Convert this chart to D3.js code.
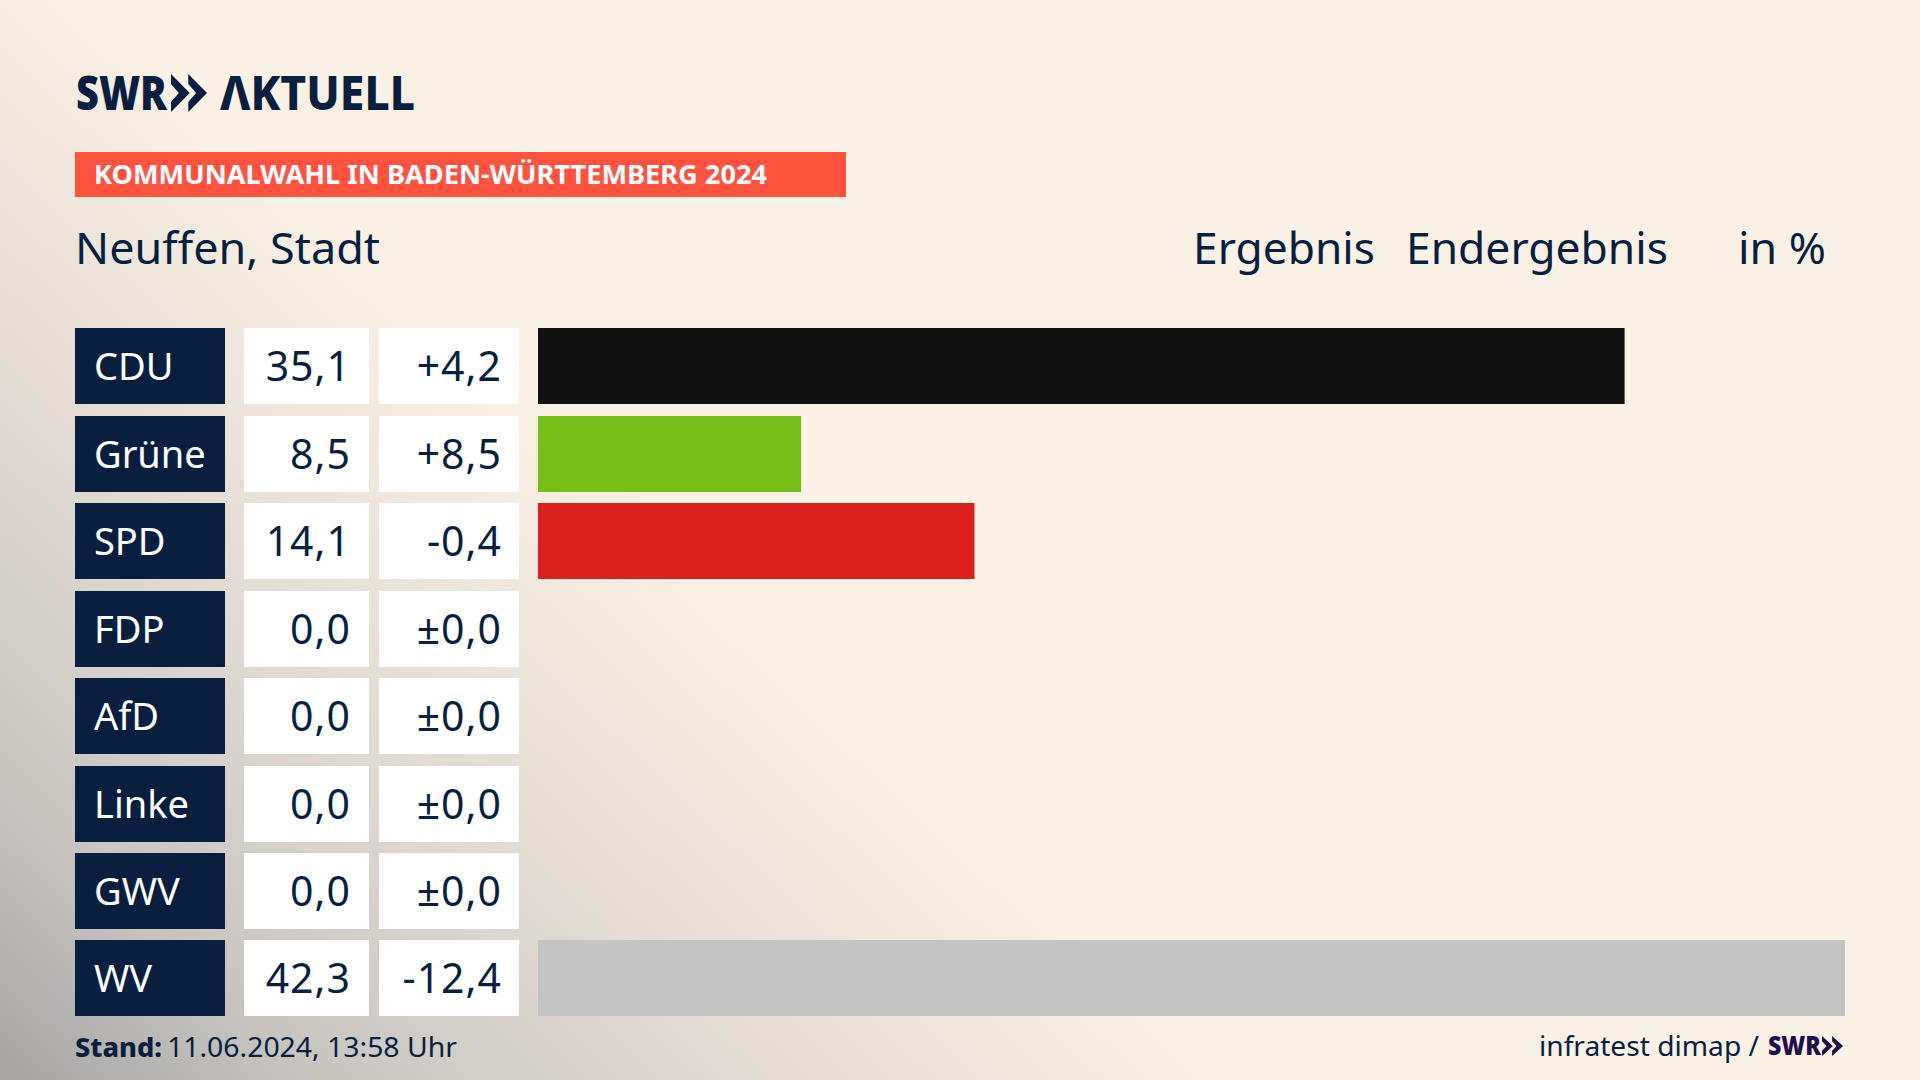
<!DOCTYPE html>
<html lang="de">
<head>
<meta charset="utf-8">
<title>Kommunalwahl Neuffen</title>
<script src="https://cdn.jsdelivr.net/npm/d3@7"></script>
<style>
  html, body { margin: 0; padding: 0; background: #faf1e6; overflow: hidden; }
  svg { display: block; }
  text { font-family: "Noto Sans", sans-serif; fill: #0a1f3f; }
</style>
</head>
<body>
<div id="chart"></div>
<script>
const parties = ["CDU", "Grüne", "SPD", "FDP", "AfD", "Linke", "GWV", "WV"];
const results = [35.1, 8.5, 14.1, 0, 0, 0, 0, 42.3];
const changes = [4.2, 8.5, -0.4, 0, 0, 0, 0, -12.4];
const barColors = ["#121212", "#78be19", "#d9201d", "#999999", "#009ee0", "#be3075", "#c4c4c4", "#c4c4c4"];

const width = 1920;
const height = 1080;
const navy = "#0a1f3f";

const svg = d3.select("#chart")
    .append("svg")
    .attr("width", width)
    .attr("height", height);

// background: cream, going grey towards the lower left corner
const bgGrad = svg.append("defs").append("linearGradient")
    .attr("id", "bg")
    .attr("gradientUnits", "userSpaceOnUse")
    .attr("x1", 0).attr("y1", 1080)
    .attr("x2", 590).attr("y2", 450);
[[0, "#a6a5a4"], [0.26, "#c8c5c1"], [0.5, "#dad5ce"], [0.75, "#ebe4da"], [1, "#faf1e6"]]
    .forEach(s => bgGrad.append("stop").attr("offset", s[0]).attr("stop-color", s[1]));
svg.append("rect").attr("width", width).attr("height", height).attr("fill", "url(#bg)");

// two arrow heads of the logo, back edge straight
function chevrons(x, y, w, h, color) {
    const path = d3.path();
    const cw = w * 0.52;
    [0, w - cw].forEach(off => {
        const x0 = x + off;
        path.moveTo(x0, y);
        path.lineTo(x0 + cw, y + h / 2);
        path.lineTo(x0, y + h);
        path.lineTo(x0, y + h * 0.74);
        path.lineTo(x0 + cw * 0.42, y + h / 2);
        path.lineTo(x0, y + h * 0.26);
        path.closePath();
    });
    svg.append("path").attr("d", path.toString()).attr("fill", color);
}

// logo
svg.append("text").attr("x", 76).attr("y", 110)
    .attr("textLength", 91).attr("lengthAdjust", "spacingAndGlyphs")
    .style("font-size", "48px").style("font-weight", 900).text("SWR");
chevrons(171, 74, 36, 38, navy);
svg.append("text").attr("x", 220).attr("y", 110)
    .attr("textLength", 195).attr("lengthAdjust", "spacingAndGlyphs")
    .style("font-size", "48px").style("font-weight", 800).text("ΛKTUELL");

// red banner
svg.append("rect").attr("x", 75).attr("y", 152).attr("width", 771).attr("height", 45).attr("fill", "#ff5340");
svg.append("text").attr("x", 94).attr("y", 184)
    .attr("textLength", 673).attr("lengthAdjust", "spacingAndGlyphs")
    .style("font-size", "27px").style("font-weight", 700).style("fill", "#fff")
    .text("KOMMUNALWAHL IN BADEN-WÜRTTEMBERG 2024");

// header row
const headers = [
    { label: "Neuffen, Stadt", x: 75, len: 305 },
    { label: "Ergebnis", x: 1193, len: 182 },
    { label: "Endergebnis", x: 1406, len: 262 },
    { label: "in %", x: 1738, len: 88 }
];
svg.selectAll(".head")
    .data(headers)
    .join("text")
    .attr("class", "head")
    .attr("x", d => d.x)
    .attr("y", 264)
    .attr("textLength", d => d.len)
    .attr("lengthAdjust", "spacingAndGlyphs")
    .style("font-size", "44px")
    .text(d => d.label);

// scales
const y = d3.scaleBand().domain(parties).range([328.4, 1016.4]).paddingInner(0.1307);
// WV runs off the scale, the bar stops at the right margin
const x = d3.scaleLinear().domain([0, 42.22]).range([538, 1845]).clamp(true);

const comma = d3.format(".1f");
const fmtResult = v => comma(v).replace(".", ",").replace("−", "-");
const fmtChange = v => v === 0 ? "±0,0" : (v > 0 ? "+" : "") + fmtResult(v);

const rows = svg.selectAll(".row")
    .data(parties)
    .join("g")
    .attr("class", "row")
    .attr("transform", d => `translate(0,${Math.round(y(d))})`);

const barH = Math.round(y.bandwidth());

// party label
rows.append("rect").attr("x", 75).attr("width", 150).attr("height", barH).attr("fill", navy);
rows.append("text").attr("x", 94).attr("y", 52)
    .style("font-size", "38px").style("fill", "#fff")
    .text(d => d);

// result and change boxes
rows.append("rect").attr("x", 244).attr("width", 125).attr("height", barH).attr("fill", "#fff");
rows.append("text").attr("x", 351).attr("y", 53)
    .attr("text-anchor", "end")
    .style("font-size", "41px").style("letter-spacing", "1px")
    .text((d, i) => fmtResult(results[i]));

rows.append("rect").attr("x", 379).attr("width", 140).attr("height", barH).attr("fill", "#fff");
rows.append("text").attr("x", 502).attr("y", 53)
    .attr("text-anchor", "end")
    .style("font-size", "41px").style("letter-spacing", "1px")
    .text((d, i) => fmtChange(changes[i]));

// bars
rows.append("rect")
    .attr("x", x(0))
    .attr("width", (d, i) => x(results[i]) - x(0))
    .attr("height", barH)
    .attr("fill", (d, i) => barColors[i]);

// footer
svg.append("text").attr("x", 75).attr("y", 1057)
    .attr("textLength", 87).attr("lengthAdjust", "spacingAndGlyphs")
    .style("font-size", "27px").style("font-weight", 800).text("Stand:");
svg.append("text").attr("x", 167).attr("y", 1057)
    .attr("textLength", 290).attr("lengthAdjust", "spacingAndGlyphs")
    .style("font-size", "27px").text("11.06.2024, 13:58 Uhr");
svg.append("text").attr("x", 1539).attr("y", 1056)
    .attr("textLength", 220).attr("lengthAdjust", "spacingAndGlyphs")
    .style("font-size", "28px").text("infratest dimap /");
svg.append("text").attr("x", 1768).attr("y", 1055)
    .attr("textLength", 53).attr("lengthAdjust", "spacingAndGlyphs")
    .style("font-size", "26px").style("font-weight", 900).style("fill", "#1f0f4a").text("SWR");
chevrons(1822, 1036, 21, 20, "#1f0f4a");
</script>
</body>
</html>
